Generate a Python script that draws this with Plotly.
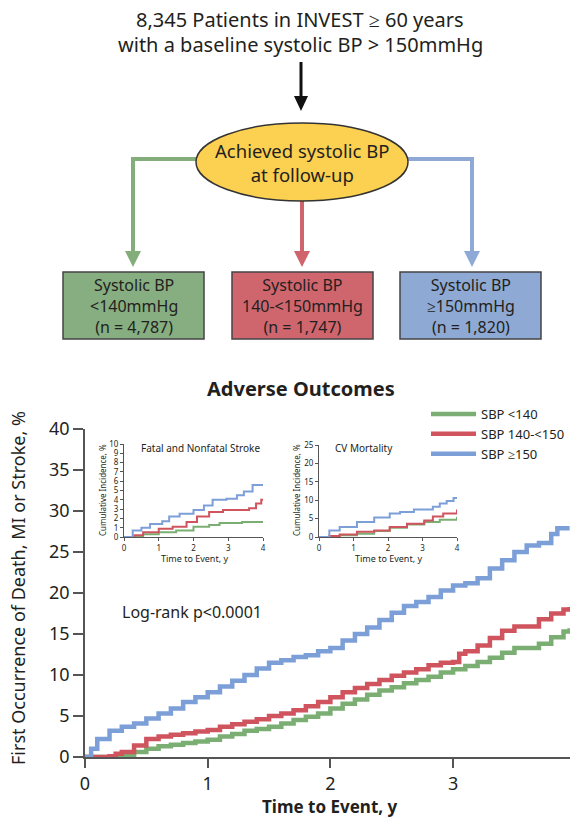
import plotly.graph_objects as go

W, H = 570, 825

# ---------------- data ----------------
series_names = ["SBP <140", "SBP 140-<150", "SBP ≥150"]
series_colors = ["#7aae72", "#d0545e", "#7c9fd8"]

# Main chart: first occurrence of death, MI or stroke (%)
green_t = [0, 0.3, 0.4, 0.5, 0.6, 0.7, 0.8, 0.9, 1.0, 1.1, 1.2, 1.3, 1.4, 1.5, 1.6, 1.7, 1.8, 1.9, 2.0,
           2.1, 2.2, 2.3, 2.4, 2.5, 2.6, 2.7, 2.8, 2.9, 3.0, 3.1, 3.2, 3.3, 3.4, 3.5, 3.6, 3.7, 3.8, 3.9, 3.95]
green_v = [0, 0.2, 0.6, 1.0, 1.3, 1.5, 1.7, 1.9, 2.1, 2.5, 2.8, 3.2, 3.4, 3.7, 4.1, 4.5, 4.9, 5.3, 5.9,
           6.5, 7.0, 7.6, 8.1, 8.5, 9.0, 9.4, 9.8, 10.3, 10.7, 11.1, 11.6, 12.1, 12.7, 13.3, 13.3, 13.8, 14.6, 15.3, 15.7]
red_t = [0, 0.2, 0.25, 0.3, 0.4, 0.5, 0.6, 0.7, 0.8, 0.9, 1.0, 1.1, 1.2, 1.3, 1.4, 1.5, 1.6, 1.7, 1.8, 1.9, 2.0,
         2.1, 2.2, 2.3, 2.4, 2.5, 2.6, 2.7, 2.8, 2.9, 3.0, 3.05, 3.1, 3.2, 3.3, 3.4, 3.5, 3.6, 3.7, 3.8, 3.9, 3.95]
red_v = [0, 0.1, 0.4, 0.6, 1.4, 2.2, 2.5, 2.7, 2.9, 3.1, 3.3, 3.7, 4.0, 4.3, 4.6, 5.0, 5.3, 5.7, 6.2, 6.7, 7.3,
         7.9, 8.4, 8.9, 9.4, 9.9, 10.3, 10.7, 11.2, 11.5, 11.6, 12.6, 12.9, 13.6, 14.5, 15.4, 15.9, 15.9, 16.8, 17.5, 18.0, 18.3]
blue_t = [0, 0.05, 0.1, 0.2, 0.3, 0.4, 0.5, 0.6, 0.7, 0.8, 0.9, 1.0, 1.1, 1.2, 1.3, 1.4, 1.5, 1.6, 1.7, 1.8, 1.9, 2.0,
          2.1, 2.2, 2.3, 2.4, 2.5, 2.6, 2.7, 2.8, 2.9, 3.0, 3.1, 3.2, 3.3, 3.4, 3.5, 3.6, 3.7, 3.8, 3.85, 3.95]
blue_v = [0, 1.0, 2.2, 3.2, 3.7, 4.1, 4.7, 5.3, 5.9, 6.7, 7.3, 7.9, 8.6, 9.3, 10.0, 10.8, 11.5, 11.8, 12.2, 12.4, 12.9, 13.3,
          14.2, 15.0, 15.8, 16.7, 17.6, 18.4, 18.9, 19.5, 20.3, 20.9, 21.2, 21.8, 23.0, 24.0, 25.0, 25.8, 26.1, 27.2, 27.9, 27.9]

# Inset 1: fatal and nonfatal stroke (%)
s_green_t = [0, 0.3, 0.55, 1.0, 1.5, 2.0, 2.45, 2.75, 3.4, 4.0]
s_green_v = [0, 0.1, 0.3, 0.5, 0.7, 1.1, 1.3, 1.5, 1.6, 1.6]
s_red_t = [0, 0.3, 0.55, 1.0, 1.4, 1.8, 2.1, 2.45, 2.85, 3.25, 3.6, 3.8, 3.95, 4.0]
s_red_v = [0, 0.2, 0.5, 0.9, 1.1, 1.6, 2.2, 2.7, 2.9, 2.9, 3.1, 3.6, 4.0, 4.0]
s_blue_t = [0, 0.25, 0.5, 0.75, 1.1, 1.3, 1.6, 2.0, 2.3, 2.55, 2.95, 3.25, 3.45, 3.7, 4.0]
s_blue_v = [0, 0.7, 1.0, 1.4, 1.7, 2.2, 2.5, 2.9, 3.4, 4.0, 4.1, 4.5, 4.9, 5.6, 5.6]

# Inset 2: CV mortality (%)
c_green_t = [0, 0.3, 0.6, 1.1, 1.6, 2.05, 2.55, 3.05, 3.5, 4.0]
c_green_v = [0, 0.2, 0.45, 0.9, 1.6, 2.5, 3.4, 4.1, 4.7, 5.5]
c_red_t = [0, 0.3, 0.6, 1.1, 1.6, 2.05, 2.55, 3.05, 3.3, 3.6, 4.0]
c_red_v = [0, 0.3, 0.7, 1.4, 1.8, 2.7, 3.6, 4.5, 5.6, 6.4, 7.5]
c_blue_t = [0, 0.3, 0.6, 1.1, 1.6, 2.05, 2.35, 2.75, 3.05, 3.3, 3.5, 3.7, 3.9, 4.0]
c_blue_v = [0, 1.8, 2.7, 4.1, 5.3, 6.4, 6.8, 7.5, 7.5, 8.2, 9.1, 9.8, 10.6, 10.6]

main_ticks_x = [0, 1, 2, 3, 4]
main_ticks_y = [0, 5, 10, 15, 20, 25, 30, 35, 40]
stroke_ticks_y = list(range(0, 11))
cv_ticks_y = [0, 5, 10, 15, 20, 25]
inset_ticks_x = [0, 1, 2, 3, 4]

box_lines = [["Systolic BP", "<140mmHg", "(n = 4,787)"],
             ["Systolic BP", "140-<150mmHg", "(n = 1,747)"],
             ["Systolic BP", "≥150mmHg", "(n = 1,820)"]]
box_fills = ["#87ae80", "#cf666e", "#8ea9d4"]

FONT = "Noto Sans"
TXT = "#231f20"
AX = "#555555"


def X(px):
    return px / W


def Y(py):
    return 1 - py / H


fig = go.Figure()

main = [(green_t, green_v), (red_t, red_v), (blue_t, blue_v)]
for (t, v), name, col in zip(main, series_names, series_colors):
    fig.add_trace(go.Scatter(x=t, y=v, mode="lines", name=name, line=dict(color=col, width=4.5, shape="hv"),
                             xaxis="x", yaxis="y", showlegend=True))

ins1 = [(s_green_t, s_green_v), (s_red_t, s_red_v), (s_blue_t, s_blue_v)]
for (t, v), name, col in zip(ins1, series_names, series_colors):
    fig.add_trace(go.Scatter(x=t, y=v, mode="lines", name=name, line=dict(color=col, width=2, shape="hv"),
                             xaxis="x2", yaxis="y2", showlegend=False))
ins2 = [(c_green_t, c_green_v), (c_red_t, c_red_v), (c_blue_t, c_blue_v)]
for (t, v), name, col in zip(ins2, series_names, series_colors):
    fig.add_trace(go.Scatter(x=t, y=v, mode="lines", name=name, line=dict(color=col, width=2, shape="hv"),
                             xaxis="x3", yaxis="y3", showlegend=False))

main_axis = dict(showline=True, linecolor=AX, linewidth=1.8, ticks="outside", tickcolor=AX, tickwidth=1.8,
                 showgrid=False, zeroline=False, tickfont=dict(family=FONT, size=18, color=TXT),
                 fixedrange=True, automargin=False)
inset_axis = dict(showline=True, linecolor=AX, linewidth=1, ticks="outside", tickcolor=AX, tickwidth=1, ticklen=3,
                  showgrid=False, zeroline=False, tickfont=dict(family=FONT, size=8, color=TXT),
                  fixedrange=True, automargin=False)

fig.update_layout(
    width=W, height=H, autosize=False,
    margin=dict(l=0, r=0, t=0, b=0, pad=0, autoexpand=False),
    paper_bgcolor="white", plot_bgcolor="rgba(0,0,0,0)",
    font=dict(family=FONT, color=TXT),
    xaxis=dict(main_axis, domain=[X(85), 1.0], range=[0, 3.953], tickvals=main_ticks_x, ticklen=9, anchor="y"),
    yaxis=dict(main_axis, domain=[Y(757), Y(429)], range=[0, 40], tickvals=main_ticks_y, ticklen=10, anchor="x"),
    xaxis2=dict(inset_axis, domain=[X(124), X(263)], range=[0, 4], tickvals=inset_ticks_x, anchor="y2"),
    yaxis2=dict(inset_axis, domain=[Y(537), Y(444)], range=[0, 10], tickvals=stroke_ticks_y, anchor="x2"),
    xaxis3=dict(inset_axis, domain=[X(319), X(457)], range=[0, 4], tickvals=inset_ticks_x, anchor="y3"),
    yaxis3=dict(inset_axis, domain=[Y(537), Y(445)], range=[0, 25], tickvals=cv_ticks_y, anchor="x3"),
    legend=dict(x=1.0, y=Y(399), xanchor="right", yanchor="top", bgcolor="rgba(0,0,0,0)",
                font=dict(family=FONT, size=13, color=TXT), itemwidth=45, tracegroupgap=0),
)

shapes = []
# black arrow from title
shapes.append(dict(type="line", xref="paper", yref="paper", x0=X(301), x1=X(301), y0=Y(62), y1=Y(100),
                   line=dict(color="#111111", width=3)))
shapes.append(dict(type="path", xref="paper", yref="paper",
                   path=f"M {X(294)},{Y(96)} L {X(308)},{Y(96)} L {X(301)},{Y(111)} Z",
                   fillcolor="#111111", line=dict(width=0)))
conn_cols = ["#84ad7c", "#cf646c", "#8ea9d6"]
# connectors
conn_paths = [
    [(205, 159), (133, 159), (133, 253)],
    [(302, 195), (302, 253)],
    [(400, 159), (472, 159), (472, 253)],
]
heads_x = [133, 302, 472]
for pts, hx, col in zip(conn_paths, heads_x, conn_cols):
    p = "M " + " L ".join(f"{X(a)},{Y(b)}" for a, b in pts)
    shapes.append(dict(type="path", xref="paper", yref="paper", path=p, line=dict(color=col, width=4)))
    shapes.append(dict(type="path", xref="paper", yref="paper",
                       path=f"M {X(hx-8)},{Y(251)} L {X(hx+8)},{Y(251)} L {X(hx)},{Y(267)} Z",
                       fillcolor=col, line=dict(width=0)))
# ellipse
shapes.append(dict(type="circle", xref="paper", yref="paper", x0=X(196), x1=X(408), y0=Y(201), y1=Y(123),
                   fillcolor="#fcd050", line=dict(color="#333333", width=1.5)))
# boxes
box_x = [(63, 204), (232, 373), (400, 541)]
for (a, b), fc in zip(box_x, box_fills):
    shapes.append(dict(type="rect", xref="paper", yref="paper", x0=X(a), x1=X(b), y0=Y(339), y1=Y(272),
                       fillcolor=fc, line=dict(color="#444444", width=1.5)))

ann = []


def text(s, px, py, size, weight="normal", xanchor="center", angle=0, color=TXT):
    ann.append(dict(text=s, x=X(px), y=Y(py), xref="paper", yref="paper", showarrow=False, xanchor=xanchor,
                    yanchor="middle", textangle=angle,
                    font=dict(family=FONT, size=size, color=color, weight=weight)))


text("8,345 Patients in INVEST ≥ 60 years", 300, 19, 20)
text("with a baseline systolic BP > 150mmHg", 300, 44, 20)
text("Achieved systolic BP<br>at follow-up", 302, 163, 18.5)
for (a, b), lines in zip(box_x, box_lines):
    cx = (a + b) / 2
    text("<br>".join(lines), cx, 306, 16)

text("Adverse Outcomes", 301, 389, 20, weight="bold")
text("Log-rank p<0.0001", 120, 612, 16, xanchor="left")
text("First Occurrence of Death, MI or Stroke, %", 18, 588, 18, angle=-90)
text("Time to Event, y", 330, 806, 17, weight="bold")

# inset labels
text("Fatal and Nonfatal Stroke", 139, 448, 10, xanchor="left")
text("CV Mortality", 333, 448, 10, xanchor="left")
text("Time to Event, y", 194, 558, 9)
text("Time to Event, y", 388, 558, 9)
text("Cumulative Incidence, %", 102, 490, 8, angle=-90)
text("Cumulative Incidence, %", 296, 490, 8, angle=-90)

fig.update_layout(shapes=shapes, annotations=ann)
fig.write_html("out.html", config={"displayModeBar": False},
               post_script="document.body.style.margin='0';document.body.style.overflow='hidden';")
